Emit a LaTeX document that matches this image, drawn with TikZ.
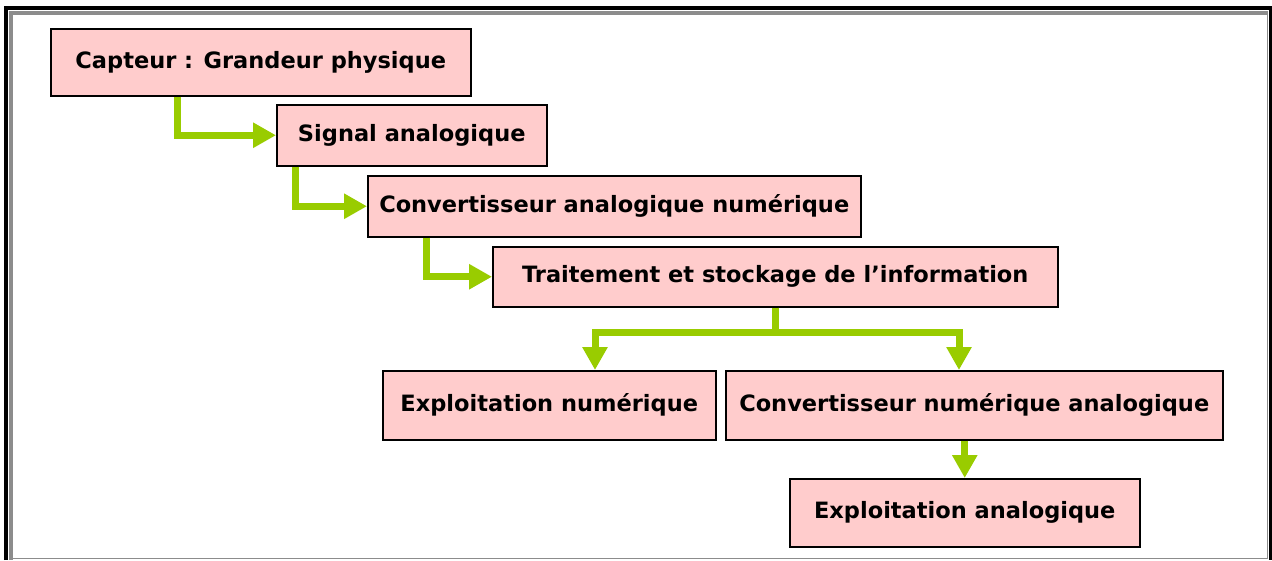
\documentclass[tikz,border=0pt]{standalone}
\usepackage{fontspec}
\setmainfont{DejaVu Sans}
\usetikzlibrary{arrows.meta}
\definecolor{boxpink}{HTML}{FFCCCC}
\definecolor{arrowgreen}{HTML}{99CC00}
\definecolor{framegray}{HTML}{8C8C8C}
\tikzstyle{block} = [rectangle, anchor=north west, draw=black, fill=boxpink, line width=1.5pt, inner sep=0pt, text centered, font=\fontsize{22.5}{27}\selectfont\bfseries]
\tikzstyle{arrow} = [draw=arrowgreen, line width=7pt, -{Triangle[length=23pt,width=24pt]}]
\begin{document}
\begin{tikzpicture}[x=1pt,y=-1pt]
\useasboundingbox (0,0) rectangle (1272,560);

% frame
\draw [line width=4pt] (6,560) -- (6,8) -- (1270.5,8) -- (1270.5,560);
\draw [framegray, line width=4pt] (11,560) -- (11,13) -- (1268,13);
\draw [framegray, line width=1.5pt] (1267.5,13) -- (1267.5,558.5) -- (11,558.5);

\node (capteur) [block, minimum width=420pt, minimum height=67pt] at (50,28) {Capteur : Grandeur physique};
\node (signal) [block, minimum width=270pt, minimum height=61pt] at (276,104) {Signal analogique};
\draw [arrow] ([xshift=127pt]capteur.south west) |- (signal.west);

\node (can) [block, minimum width=493pt, minimum height=61pt] at (367,175) {Convertisseur analogique numérique};
\draw [arrow] ([xshift=19pt]signal.south west) |- (can.west);

\node (traitement) [block, minimum width=565pt, minimum height=60pt] at (492,246) {Traitement et stockage de l’information};
\draw [arrow] ([xshift=59pt]can.south west) |- (traitement.west);

\node (expnum) [block, minimum width=333pt, minimum height=69pt] at (382,370) {Exploitation numérique};
\node (cna) [block, minimum width=497pt, minimum height=69pt] at (725,370) {Convertisseur numérique analogique};
\draw [arrow] (traitement.south) -- ++(0,25) -| ([xshift=213pt]expnum.north west);
\draw [arrow] (traitement.south) -- ++(0,25) -| ([xshift=234pt]cna.north west);

\node (expana) [block, minimum width=350pt, minimum height=68pt] at (789,478) {Exploitation analogique};
\draw [arrow] (cna.south -| expana.north) -- (expana.north);

\end{tikzpicture}
\end{document}
